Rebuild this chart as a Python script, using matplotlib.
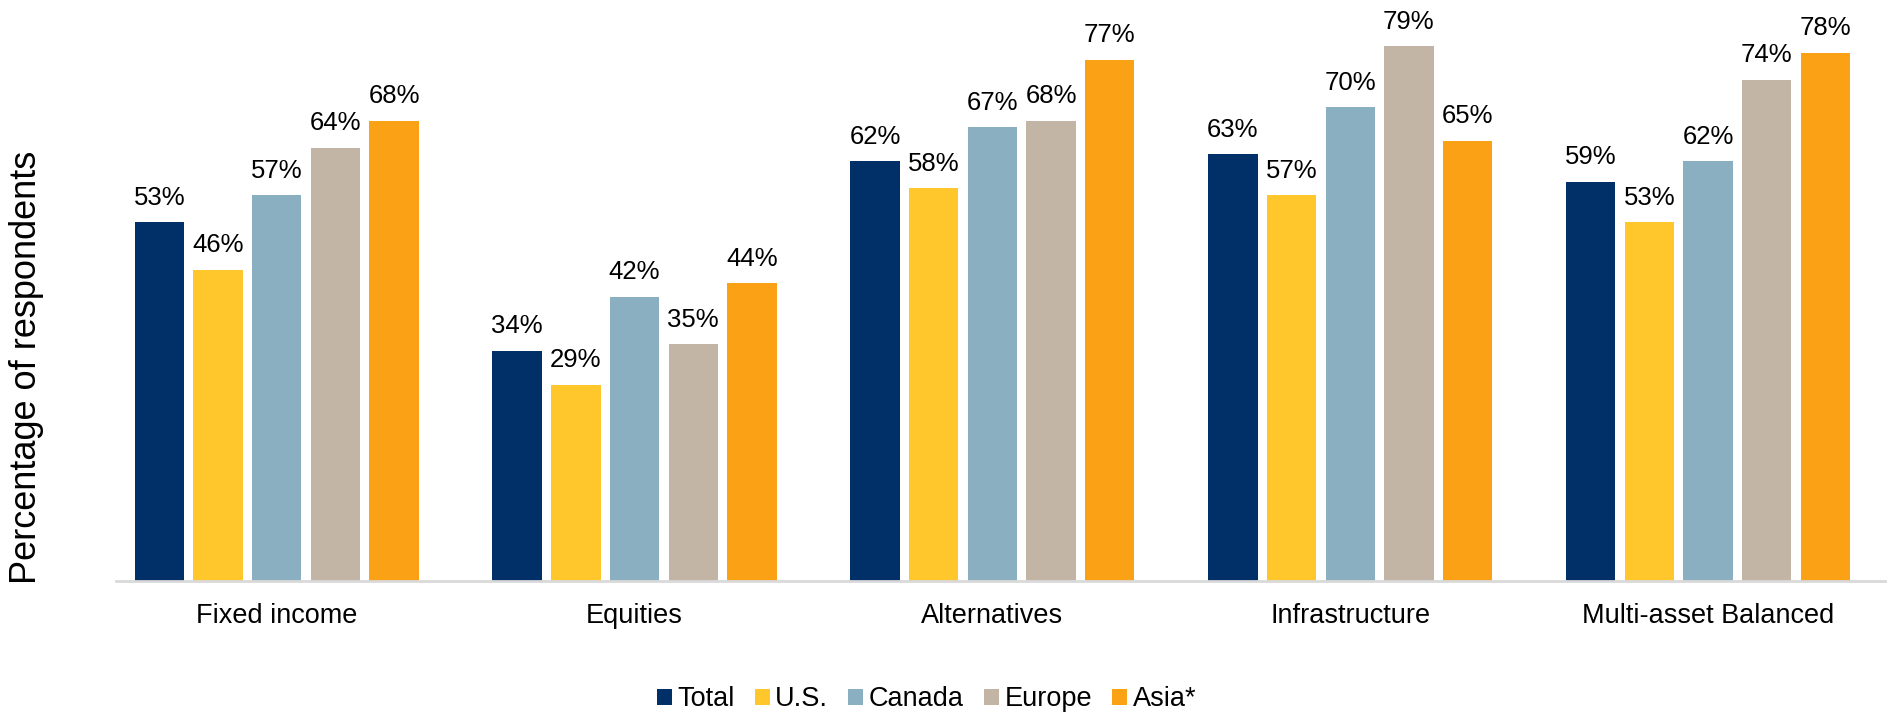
import matplotlib.pyplot as plt
import numpy as np

plt.rcParams['font.family'] = ['Liberation Sans', 'DejaVu Sans']

# data
categories = ['Fixed income', 'Equities', 'Alternatives', 'Infrastructure', 'Multi-asset Balanced']
series = ['Total', 'U.S.', 'Canada', 'Europe', 'Asia*']
total = [53, 34, 62, 63, 59]
us = [46, 29, 58, 57, 53]
canada = [57, 42, 67, 70, 62]
europe = [64, 35, 68, 79, 74]
asia = [68, 44, 77, 65, 78]
colors = ['#003067', '#FFC72C', '#8AAFC0', '#C2B5A5', '#FAA116']

values = [total, us, canada, europe, asia]

fig = plt.figure(figsize=(18.87, 7.21), dpi=100)
ax = fig.add_axes([0.0613, 0.194, 0.9387, 0.806])

x = np.arange(len(categories))
width = 0.138
pitch = 0.164

for i, (name, vals, c) in enumerate(zip(series, values, colors)):
    pos = x + (i - 2) * pitch
    bars = ax.bar(pos, vals, width, color=c, label=name)
    for b, v in zip(bars, vals):
        ax.annotate(f'{v}%', (b.get_x() + b.get_width() / 2, v),
                    xytext=(0, 9), textcoords='offset points',
                    ha='center', va='bottom', fontsize=18.5)

ax.set_xlim(-0.45, 4.5)
ax.set_ylim(0, 85.8)
ax.set_xticks(x)
ax.set_xticklabels(categories, fontsize=19.5)
ax.tick_params(axis='x', length=0, pad=16)
ax.set_yticks([])
for s in ['top', 'right', 'left']:
    ax.spines[s].set_visible(False)
ax.spines['bottom'].set_color('#d9d9d9')
ax.spines['bottom'].set_linewidth(2)

fig.text(0.005, 0.491, 'Percentage of respondents', rotation=90,
         ha='left', va='center', fontsize=26)

fig.legend(loc='lower center', bbox_to_anchor=(0.491, -0.022), ncol=5,
           frameon=False, fontsize=19.5, handlelength=0.55, handleheight=0.55,
           handletextpad=0.2, columnspacing=0.75)

fig.savefig('out.png', dpi=100)
